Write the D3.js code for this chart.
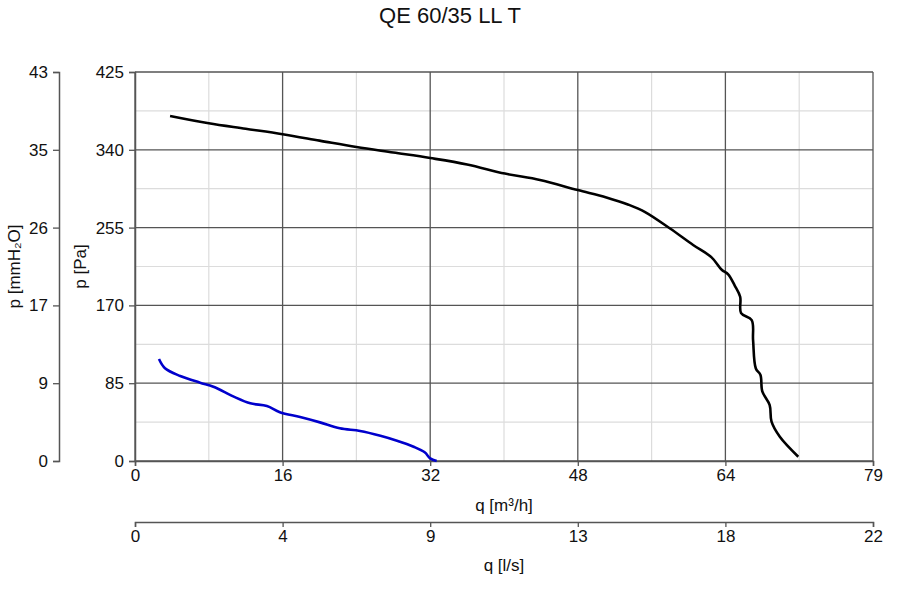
<!DOCTYPE html>
<html>
<head>
<meta charset="utf-8">
<script src="https://cdn.jsdelivr.net/npm/d3@7"></script>
<style>
  body { margin: 0; background: #fff; }
  svg { font-family: "Liberation Sans", Arial, sans-serif; }
</style>
</head>
<body>
<svg id="chart" width="900" height="600"></svg>
<script>
// ---- data ----
const title = "QE 60/35 LL T";
const qTickValues = [0, 16, 32, 48, 64, 80];
const qTickLabels = ["0", "16", "32", "48", "64", "79"];
const lsTickLabels = ["0", "4", "9", "13", "18", "22"];
const paTickValues = [0, 85, 170, 255, 340, 425];
const paTickLabels = ["0", "85", "170", "255", "340", "425"];
const mmTickLabels = ["0", "9", "17", "26", "35", "43"];

const blackQ = [3.8, 8.0, 12.0, 16.0, 20.0, 24.0, 28.0, 32.0, 36.0, 40.1, 43.9, 48.0, 51.1, 53.5, 55.3, 58.0, 60.5, 62.5, 63.6, 64.3, 65.0, 65.6, 65.7, 66.85, 67.0, 67.3, 67.8, 68.0, 68.8, 69.0, 69.9, 71.9];
const blackP = [377, 369, 363, 357, 350, 343, 337, 331, 324, 314, 307, 296, 288, 280, 272, 254, 236, 222.5, 209, 204, 192, 179.5, 161.5, 154, 132, 101, 94, 76, 61, 43, 26.5, 4.7];

const blueQ = [2.6, 3.25, 4.9, 7.05, 8.5, 10.7, 12.5, 14.3, 15.7, 17.9, 20.05, 22.2, 24.4, 26.6, 28.4, 30.2, 31.4, 32.0, 32.7];
const blueP = [111.4, 101.3, 92.9, 85.6, 81.2, 70.3, 63, 60.1, 53.3, 48, 42.2, 35.7, 32.8, 27.6, 22.2, 15.6, 9.5, 2.9, 0];

// ---- layout ----
const svg = d3.select("#chart");
const L = 135, R = 873, T = 72, B = 461;
const PA_PER_MM = 9.80665;

const x = d3.scaleLinear().domain([0, 80]).range([L, R]);
const xls = d3.scaleLinear().domain([0, 80 / 3.6]).range([L, R]);
const y = d3.scaleLinear().domain([0, 425]).range([B, T]);
const ymm = d3.scaleLinear().domain([0, 425 / PA_PER_MM]).range([B, T]);

const minorX = d3.pairs(qTickValues).map(([a, b]) => (a + b) / 2);
const minorY = d3.pairs(paTickValues).map(([a, b]) => (a + b) / 2);

// minor grid
const g = svg.append("g");
g.selectAll("line.mx").data(minorX).join("line")
  .attr("x1", d => x(d)).attr("x2", d => x(d)).attr("y1", T).attr("y2", B)
  .attr("stroke", "#dcdcdc").attr("stroke-width", 1.2);
g.selectAll("line.my").data(minorY).join("line")
  .attr("y1", d => y(d)).attr("y2", d => y(d)).attr("x1", L).attr("x2", R)
  .attr("stroke", "#dcdcdc").attr("stroke-width", 1.2);
// major grid
g.selectAll("line.Mx").data(qTickValues).join("line")
  .attr("x1", d => x(d)).attr("x2", d => x(d)).attr("y1", T).attr("y2", B)
  .attr("stroke", "#555").attr("stroke-width", 1.3);
g.selectAll("line.My").data(paTickValues).join("line")
  .attr("y1", d => y(d)).attr("y2", d => y(d)).attr("x1", L).attr("x2", R)
  .attr("stroke", "#555").attr("stroke-width", 1.3);

function styleAxis(sel) {
  sel.selectAll("path.domain").attr("stroke", "#555").attr("stroke-width", 1.5);
  sel.selectAll(".tick line").attr("stroke", "#555").attr("stroke-width", 1.3);
  sel.selectAll(".tick text").attr("fill", "#111").style("font-size", "17px")
    .style("font-family", "'Liberation Sans', Arial, sans-serif");
}

// bottom axis m3/h
svg.append("g").attr("transform", `translate(0,${B})`)
  .call(d3.axisBottom(x).tickValues(qTickValues).tickSize(5).tickSizeOuter(5).tickPadding(3)
    .tickFormat((d, i) => qTickLabels[i]))
  .call(styleAxis);

// bottom axis l/s
svg.append("g").attr("transform", `translate(0,522)`)
  .call(d3.axisBottom(xls).tickValues(qTickValues.map(v => v / 3.6)).tickSize(5).tickSizeOuter(5).tickPadding(3)
    .tickFormat((d, i) => lsTickLabels[i]))
  .call(styleAxis);

// left axis Pa
svg.append("g").attr("transform", `translate(${L},0)`)
  .call(d3.axisLeft(y).tickValues(paTickValues).tickSize(6).tickSizeOuter(6).tickPadding(5)
    .tickFormat((d, i) => paTickLabels[i]))
  .call(styleAxis);

// left axis mmH2O
svg.append("g").attr("transform", `translate(59,0)`)
  .call(d3.axisLeft(ymm).tickValues(paTickValues.map(v => v / PA_PER_MM)).tickSize(6).tickSizeOuter(6).tickPadding(5)
    .tickFormat((d, i) => mmTickLabels[i]))
  .call(styleAxis);

// curves
const line = d3.line().x(d => x(d[0])).y(d => y(d[1])).curve(d3.curveCatmullRom.alpha(0.5));
svg.append("path").datum(d3.zip(blackQ, blackP))
  .attr("d", line).attr("fill", "none").attr("stroke", "#000")
  .attr("stroke-width", 2.6).attr("stroke-linejoin", "round");
svg.append("path").datum(d3.zip(blueQ, blueP))
  .attr("d", line).attr("fill", "none").attr("stroke", "#0000cc")
  .attr("stroke-width", 2.6).attr("stroke-linejoin", "round");

// labels
svg.append("text").attr("x", 450).attr("y", 23).attr("text-anchor", "middle")
  .style("font-size", "22px").attr("fill", "#111").text(title);
svg.append("text").attr("x", (L + R) / 2).attr("y", 511).attr("text-anchor", "middle")
  .style("font-size", "17px").attr("fill", "#111").text("q [m³/h]");
svg.append("text").attr("x", (L + R) / 2).attr("y", 571).attr("text-anchor", "middle")
  .style("font-size", "17px").attr("fill", "#111").text("q [l/s]");
svg.append("text").attr("transform", `translate(20,${(T + B) / 2}) rotate(-90)`)
  .attr("text-anchor", "middle").style("font-size", "17px").attr("fill", "#111")
  .text("p [mmH₂O]");
svg.append("text").attr("transform", `translate(86,${(T + B) / 2}) rotate(-90)`)
  .attr("text-anchor", "middle").style("font-size", "17px").attr("fill", "#111")
  .text("p [Pa]");
</script>
</body>
</html>
